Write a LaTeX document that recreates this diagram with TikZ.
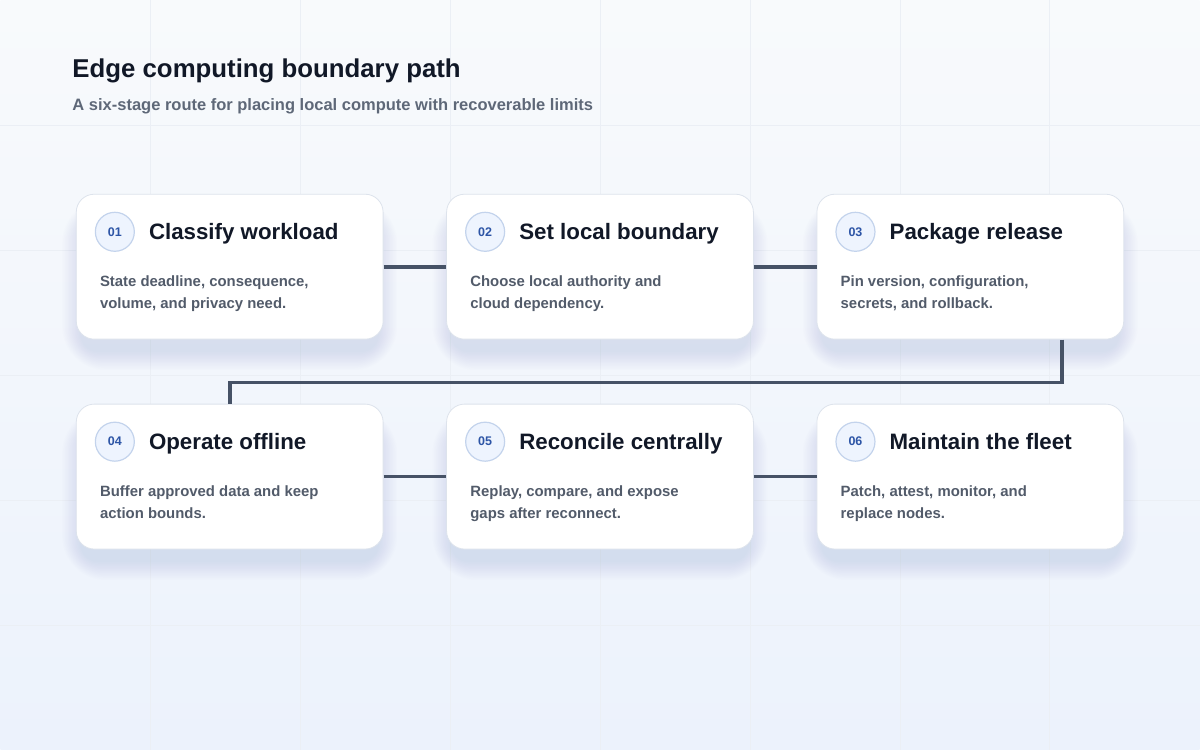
\documentclass[tikz,border=0pt]{standalone}
\usepackage{fontspec}
\setmainfont{Liberation Sans}
\usetikzlibrary{calc,positioning}

\definecolor{bgtop}{HTML}{F8FAFC}
\definecolor{bgbottom}{HTML}{ECF2FC}
\definecolor{gridcol}{HTML}{EBEFF5}
\definecolor{cardline}{HTML}{DDE3EC}
\definecolor{shadowcol}{HTML}{7F8DB0}
\definecolor{badgefill}{HTML}{EEF4FE}
\definecolor{badgeline}{HTML}{C3D3EC}
\definecolor{badgetext}{HTML}{2D55A6}
\definecolor{ink}{HTML}{111827}
\definecolor{muted}{HTML}{525B6A}
\definecolor{subink}{HTML}{5E6878}
\definecolor{linkcol}{HTML}{465266}

\tikzset{
	card/.style={draw=cardline, fill=white, line width=0.8pt, rounded corners=18pt, minimum width=307pt, minimum height=145pt, inner sep=0pt},
	badge/.style={circle, draw=badgeline, fill=badgefill, line width=1.2pt, minimum size=39pt, inner sep=0pt, text=badgetext, font=\bfseries\fontsize{12.5}{12}\selectfont},
	stagetitle/.style={anchor=base west, inner sep=0pt, text=ink, font=\bfseries\fontsize{22.3}{26}\selectfont},
	stagetext/.style={anchor=north west, inner sep=0pt, align=left, text=muted, font=\bfseries\fontsize{14.9}{22}\selectfont},
	link/.style={draw=linkcol, line width=3.8pt}
}

% card: number, centre, title, two text lines
\def\stagecard#1(#2,#3)#4#5#6{%
	\foreach \s [evaluate=\s as \r using 16+\s] in {2,4,...,28}
		\fill[shadowcol, opacity=0.013, rounded corners=\r pt] ($(#2,#3)+(-148-0.7*\s,-66-0.7*\s+18)$) rectangle ($(#2,#3)+(148+0.7*\s,66+0.7*\s+18)$);
	\node[card] (card#1) at (#2,#3) {};
	\node[badge] (badge#1) at ($(card#1.north west)+(39,38)$) {0#1};
	\node[stagetitle] (title#1) at ($(card#1.north west)+(73,46)$) {#4};
	\node[stagetext] (text#1) at ($(card#1.north west)+(24,82)$) {#5\\#6};
}

\begin{document}
\begin{tikzpicture}[x=1pt, y=-1pt]
			%%%%% BACKGROUND %%%%%
			
			\shade[top color=bgtop, bottom color=bgbottom] (0,0) rectangle (1200,750);
			\draw[gridcol, line width=0.6pt] (150,0) -- (150,750);
			\draw[gridcol, line width=0.6pt] (300,0) -- (300,750);
			\draw[gridcol, line width=0.6pt] (450,0) -- (450,750);
			\draw[gridcol, line width=0.6pt] (600,0) -- (600,750);
			\draw[gridcol, line width=0.6pt] (750,0) -- (750,750);
			\draw[gridcol, line width=0.6pt] (900,0) -- (900,750);
			\draw[gridcol, line width=0.6pt] (1050,0) -- (1050,750);
			\draw[gridcol, line width=0.6pt] (0,125) -- (1200,125);
			\draw[gridcol, line width=0.6pt] (0,250) -- (1200,250);
			\draw[gridcol, line width=0.6pt] (0,375) -- (1200,375);
			\draw[gridcol, line width=0.6pt] (0,500) -- (1200,500);
			\draw[gridcol, line width=0.6pt] (0,625) -- (1200,625);
			
			%%%%% HEADER %%%%%
			
			\node[anchor=base west, inner sep=0pt, text=ink, font=\bfseries\fontsize{25.8}{30}\selectfont] (heading) at (72,77) {Edge computing boundary path};
			\node[anchor=base west, inner sep=0pt, text=subink, font=\bfseries\fontsize{16.5}{20}\selectfont] (subheading) at (72,110) {A six-stage route for placing local compute with recoverable limits};
			
			%%%%% CARDS %%%%%
			
			\stagecard1(229.5,266.5){Classify workload}{State deadline, consequence,}{volume, and privacy need.}
			\stagecard2(600,266.5){Set local boundary}{Choose local authority and}{cloud dependency.}
			\stagecard3(970.5,266.5){Package release}{Pin version, configuration,}{secrets, and rollback.}
			\stagecard4(229.5,476.5){Operate offline}{Buffer approved data and keep}{action bounds.}
			\stagecard5(600,476.5){Reconcile centrally}{Replay, compare, and expose}{gaps after reconnect.}
			\stagecard6(970.5,476.5){Maintain the fleet}{Patch, attest, monitor, and}{replace nodes.}
			
			%%%%% LINKS %%%%%
			
			\coordinate (drop3) at ($(card3.south west)!0.798!(card3.south east)$);
			\draw[link] (card1.east) -- (card2.west);
			\draw[link] (card2.east) -- (card3.west);
			\draw[link] (drop3) -- ++(0,43) -| (card4.north);
			\draw[link] (card4.east) -- (card5.west);
			\draw[link] (card5.east) -- (card6.west);
			
			%%%%% END %%%%%
\end{tikzpicture}
\end{document}
